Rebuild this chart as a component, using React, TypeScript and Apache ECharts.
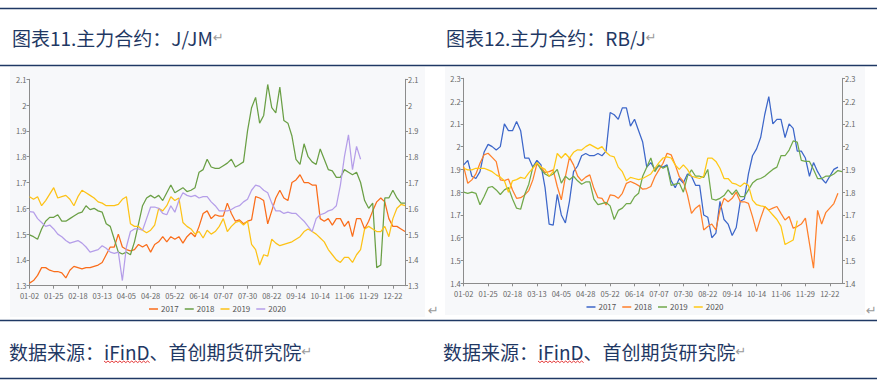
import React, { useEffect, useRef } from 'react';
import * as echarts from 'echarts';

// ---------- data ----------
const TICK_LABELS = ['01-02', '01-25', '02-18', '03-13', '04-05', '04-28', '05-22', '06-14', '07-07', '07-30', '08-22', '09-14', '10-14', '11-06', '11-29', '12-22'];
const TAIL_DATES = ['12-26', '12-29', '12-31'];
const STEPS_PER_LABEL = 6;

const LEGEND_NAMES = ['2017', '2018', '2019', '2020'];

// 图表11 J/JM
const L2017 = [1.31, 1.32, 1.34, 1.37, 1.37, 1.36, 1.355, 1.355, 1.35, 1.33,
  1.36, 1.375, 1.37, 1.365, 1.37, 1.37, 1.375, 1.38, 1.39, 1.42,
  1.45, 1.45, 1.50, 1.45, 1.44, 1.435, 1.44, 1.46, 1.45, 1.46,
  1.43, 1.46, 1.47, 1.49, 1.47, 1.49, 1.48, 1.49, 1.465, 1.49,
  1.505, 1.49, 1.53, 1.58, 1.59, 1.56, 1.575, 1.57, 1.57, 1.62,
  1.58, 1.55, 1.555, 1.54, 1.55, 1.555, 1.645, 1.64, 1.63, 1.54,
  1.59, 1.64, 1.67, 1.64, 1.63, 1.70, 1.71, 1.73, 1.70, 1.70,
  1.69, 1.69, 1.56, 1.55, 1.56, 1.535, 1.56, 1.56, 1.53, 1.55,
  1.49, 1.56, 1.56, 1.52, 1.55, 1.59, 1.625, 1.64, 1.625, 1.56,
  1.53, 1.53, 1.52, 1.51];
const L2018 = [1.497, 1.49, 1.48, 1.52, 1.55, 1.565, 1.565, 1.575, 1.55, 1.55,
  1.56, 1.57, 1.58, 1.585, 1.61, 1.595, 1.60, 1.59, 1.585, 1.54,
  1.53, 1.48, 1.43, 1.423, 1.43, 1.42, 1.47, 1.54, 1.61, 1.64,
  1.65, 1.64, 1.65, 1.63, 1.66, 1.69, 1.66, 1.67, 1.68, 1.665,
  1.67, 1.68, 1.74, 1.75, 1.79, 1.76, 1.755, 1.755, 1.765, 1.775,
  1.79, 1.76, 1.77, 1.78, 1.90, 1.99, 2.03, 1.93, 1.96, 2.08,
  1.99, 1.97, 2.07, 1.94, 1.93, 1.88, 1.79, 1.77, 1.85, 1.80,
  1.78, 1.77, 1.83, 1.79, 1.75, 1.745, 1.72, 1.72, 1.75, 1.74,
  1.73, 1.74, 1.70, 1.63, 1.60, 1.62, 1.37, 1.38, 1.64, 1.64,
  1.67, 1.64, 1.62, 1.62];
const L2019 = [1.645, 1.635, 1.645, 1.61, 1.63, 1.655, 1.68, 1.64, 1.645, 1.65,
  1.635, 1.61, 1.645, 1.67, 1.66, 1.65, 1.64, 1.625, 1.62, 1.61,
  1.61, 1.61, 1.615, 1.635, 1.645, 1.54, 1.53, 1.53, 1.515, 1.505,
  1.515, 1.535, 1.60, 1.59, 1.61, 1.645, 1.63, 1.64, 1.545, 1.53,
  1.52, 1.50, 1.51, 1.485, 1.515, 1.50, 1.51, 1.53, 1.56, 1.51,
  1.53, 1.545, 1.55, 1.535, 1.55, 1.46, 1.44, 1.38, 1.42, 1.415,
  1.48, 1.465, 1.455, 1.46, 1.465, 1.47, 1.48, 1.49, 1.51, 1.52,
  1.51, 1.50, 1.485, 1.47, 1.44, 1.42, 1.40, 1.39, 1.41, 1.41,
  1.39, 1.42, 1.44, 1.52, 1.53, 1.52, 1.51, 1.51, 1.53, 1.49,
  1.56, 1.60, 1.615, 1.61];
const L2020 = [1.587, 1.585, 1.56, 1.545, 1.53, 1.535, 1.52, 1.50, 1.49, 1.475,
  1.465, 1.47, 1.475, 1.465, 1.45, 1.43, 1.435, 1.44, 1.455, 1.445,
  1.43, 1.425, 1.43, 1.32, 1.45, 1.51, 1.52, 1.52, 1.515, 1.56,
  1.605, 1.605, 1.60, 1.58, 1.575, 1.61, 1.585, 1.63, 1.66, 1.65,
  1.645, 1.65, 1.64, 1.645, 1.645, 1.625, 1.61, 1.59, 1.59, 1.59,
  1.595, 1.605, 1.61, 1.625, 1.635, 1.67, 1.69, 1.685, 1.67, 1.66,
  1.62, 1.59, 1.59, 1.58, 1.585, 1.58, 1.58, 1.565, 1.55, 1.53,
  1.51, 1.56, 1.575, 1.58, 1.59, 1.595, 1.61, 1.69, 1.80, 1.885,
  1.75, 1.84, 1.79, null, null, null, null, null, null, null,
  null, null, null, null];

// 图表12 RB/J
const R2017 = [1.92, 1.94, 1.87, 1.86, 1.89, 1.975, 2.01, 2.00, 1.985, 2.00,
  2.10, 2.07, 2.07, 2.11, 2.07, 1.95, 1.95, 1.91, 1.94, 1.92,
  1.82, 1.66, 1.655, 1.79, 1.70, 1.665, 1.76, 1.89, 1.915, 1.96,
  1.97, 1.96, 1.96, 1.97, 1.96, 1.98, 2.15, 2.14, 2.12, 2.17,
  2.17, 2.09, 2.12, 2.07, 2.02, 1.91, 1.93, 1.90, 1.915, 1.91,
  1.92, 1.85, 1.82, 1.86, 1.84, 1.88, 1.87, 1.83, 1.83, 1.70,
  1.69, 1.60, 1.62, 1.76, 1.68, 1.66, 1.61, 1.645, 1.76, 1.77,
  1.88, 1.96, 1.99, 2.04, 2.14, 2.22, 2.10, 2.12, 2.12, 2.04,
  2.10, 2.08, 1.98, 1.98, 1.95, 1.87, 1.93, 1.89, 1.86, 1.84,
  1.87, 1.90, 1.91, null];
const R2018 = [1.912, 1.839, 1.854, 1.88, 1.927, 1.964, 1.971, 1.953, 1.934, 1.854,
  1.851, 1.858, 1.81, 1.773, 1.776, 1.788, 1.807, 1.854, 1.924, 1.91,
  1.886, 1.89, 1.898, 1.825, 1.766, 1.868, 1.953, 1.92, 1.871, 1.85,
  1.866, 1.876, 1.817, 1.776, 1.773, 1.744, 1.788, 1.785, 1.773, 1.795,
  1.839, 1.847, 1.839, 1.829, 1.813, 1.816, 1.825, 1.868, 1.898, 1.927,
  1.971, 1.964, 1.92, 1.868, 1.847, 1.788, 1.707, 1.73, 1.744, 1.634,
  1.649, 1.66, 1.634, 1.722, 1.773, 1.758, 1.773, 1.80, 1.758, 1.758,
  1.751, 1.693, 1.627, 1.686, 1.737, 1.722, 1.73, 1.737, 1.707, 1.678,
  1.693, 1.642, 1.649, 1.66, 1.686, 1.575, 1.466, 1.72, 1.66, 1.71,
  1.73, 1.75, 1.795, null];
const R2019 = [1.80, 1.795, 1.80, 1.795, 1.745, 1.78, 1.82, 1.825, 1.81, 1.79,
  1.81, 1.82, 1.77, 1.73, 1.725, 1.79, 1.835, 1.91, 1.93, 1.90,
  1.88, 1.87, 1.88, 1.90, 1.84, 1.87, 1.855, 1.87, 1.85, 1.835,
  1.845, 1.845, 1.77, 1.745, 1.75, 1.755, 1.74, 1.68, 1.72, 1.73,
  1.75, 1.75, 1.78, 1.795, 1.87, 1.91, 1.95, 1.89, 1.92, 1.905,
  1.915, 1.83, 1.835, 1.84, 1.80, 1.87, 1.898, 1.87, 1.87, 1.865,
  1.90, 1.77, 1.765, 1.773, 1.785, 1.81, 1.79, 1.81, 1.78, 1.78,
  1.81, 1.84, 1.855, 1.86, 1.87, 1.885, 1.90, 1.91, 1.96, 1.96,
  1.985, 2.025, 2.02, 1.94, 1.935, 1.935, 1.90, 1.86, 1.86, 1.87,
  1.87, 1.88, 1.895, 1.89];
const R2020 = [1.905, 1.898, 1.898, 1.905, 1.905, 1.905, 1.898, 1.89, 1.876, 1.866,
  1.85, 1.80, 1.85, 1.855, 1.865, 1.86, 1.885, 1.905, 1.93, 1.91,
  1.90, 1.87, 1.89, 1.97, 1.95, 1.97, 1.95, 1.975, 1.986, 1.985,
  2.00, 2.01, 2.00, 1.99, 2.00, 1.975, 1.96, 1.955, 1.91, 1.89,
  1.85, 1.865, 1.86, 1.855, 1.86, 1.87, 1.88, 1.905, 1.93, 1.95,
  1.955, 1.95, 1.92, 1.90, 1.92, 1.90, 1.87, 1.865, 1.86, 1.87,
  1.95, 1.95, 1.935, 1.905, 1.86, 1.86, 1.84, 1.835, 1.825, 1.84,
  1.83, 1.765, 1.745, 1.74, 1.737, 1.72, 1.70, 1.68, 1.65, 1.57,
  1.58, 1.59, 1.675, null, null, null, null, null, null, null,
  null, null, null, null];

const LEFT_COLORS = ['#fa6d1a', '#6a9f45', '#fdc216', '#b59ee9'];
const RIGHT_COLORS = ['#3c66c9', '#ff7f2a', '#70a84a', '#ffc814'];

const TITLE_LEFT = '图表11.主力合约：J/JM';
const TITLE_RIGHT = '图表12.主力合约：RB/J';
const SOURCE_PREFIX = '数据来源：';
const SOURCE_NAME = 'iFinD';
const SOURCE_SUFFIX = '、首创期货研究院';

// ---------- helpers ----------
function buildCategories(): string[] {
  const toDay = (s: string) => {
    const [m, d] = s.split('-').map(Number);
    return Date.UTC(2019, m - 1, d) / 86400000;
  };
  const fmt = (n: number) => {
    const dt = new Date(Math.round(n) * 86400000);
    return String(dt.getUTCMonth() + 1).padStart(2, '0') + '-' + String(dt.getUTCDate()).padStart(2, '0');
  };
  const out: string[] = [];
  for (let k = 0; k < TICK_LABELS.length - 1; k++) {
    const a = toDay(TICK_LABELS[k]);
    const b = toDay(TICK_LABELS[k + 1]);
    for (let j = 0; j < STEPS_PER_LABEL; j++) {
      out.push(j === 0 ? TICK_LABELS[k] : fmt(a + ((b - a) * j) / STEPS_PER_LABEL));
    }
  }
  out.push(TICK_LABELS[TICK_LABELS.length - 1]);
  out.push(...TAIL_DATES);
  return out;
}

const FONT = "'Noto Sans CJK SC', 'Noto Sans', sans-serif";
const NAVY = '#1f3864';
const DOC_SIZE = 19;

function measure(text: string, size: number): number {
  const c = document.createElement('canvas').getContext('2d');
  if (!c) return text.length * size * 0.6;
  c.font = `${size}px 'Noto Sans CJK SC'`;
  return c.measureText(text).width;
}

function chartOption(
  categories: string[],
  seriesData: (number | null)[][],
  colors: string[],
  yMin: number,
  yMax: number,
  grid: { left: number; right: number; top: number; bottom: number },
  legendTop: number
) {
  const axisLabel = { fontSize: 7.5, color: '#666', fontFamily: FONT };
  const yAxisBase = {
    type: 'value',
    min: yMin,
    max: yMax,
    interval: 0.1,
    splitLine: { show: false },
    axisLine: { show: true, lineStyle: { color: '#8c8c8c', width: 1 } },
    axisTick: { show: true, length: 3, lineStyle: { color: '#8c8c8c' } },
    axisLabel: { ...axisLabel, margin: 3, formatter: (v: number) => String(Math.round(v * 10) / 10) },
  };
  return {
    animation: false,
    backgroundColor: '#f7f8fa',
    textStyle: { fontFamily: FONT },
    color: colors,
    grid: { ...grid, containLabel: false },
    legend: {
      data: LEGEND_NAMES,
      top: legendTop,
      left: 'center',
      icon: 'rect',
      itemWidth: 9,
      itemHeight: 1.5,
      itemGap: 6,
      textStyle: { fontSize: 8, color: '#555', fontFamily: FONT, padding: [0, 0, 0, -2] },
    },
    xAxis: {
      type: 'category',
      data: categories,
      boundaryGap: false,
      axisLine: { lineStyle: { color: '#8c8c8c' } },
      axisTick: { interval: STEPS_PER_LABEL - 1, length: 3, lineStyle: { color: '#8c8c8c' } },
      axisLabel: { ...axisLabel, margin: 6, interval: STEPS_PER_LABEL - 1 },
    },
    yAxis: [
      { ...yAxisBase, position: 'left' },
      { ...yAxisBase, position: 'right' },
    ],
    series: LEGEND_NAMES.map((name, i) => ({
      name,
      type: 'line',
      data: seriesData[i],
      showSymbol: false,
      symbol: 'none',
      connectNulls: false,
      lineStyle: { width: 1.25, color: colors[i] },
      itemStyle: { color: colors[i] },
    })),
  };
}

function pageOption() {
  const line = (y: number) => ({
    type: 'line',
    shape: { x1: 0, y1: y, x2: 877, y2: y },
    style: { stroke: NAVY, lineWidth: 1.5 },
  });
  const docText = (x: number, y: number, t: string) => ({
    type: 'text',
    x,
    y,
    style: {
      text: `{a|${t}}{p|↵}`,
      verticalAlign: 'middle',
      rich: {
        a: { fontSize: DOC_SIZE, fill: NAVY, fontFamily: FONT },
        p: { fontSize: 13, fill: '#9a9a9a', fontFamily: 'DejaVu Sans' },
      },
    },
  });
  const mark = (x: number, y: number) => ({
    type: 'text',
    x,
    y,
    style: { text: '↵', fontSize: 13, fill: '#9a9a9a', fontFamily: 'DejaVu Sans', verticalAlign: 'middle' },
  });
  const wave = (x0: number, y: number, w: number) => {
    const pts: number[][] = [];
    const n = Math.round(w / 2);
    for (let i = 0; i <= n; i++) pts.push([x0 + (i * w) / n, y + (i % 2 === 0 ? 0 : 1.6)]);
    return { type: 'polyline', shape: { points: pts }, style: { stroke: '#e02020', lineWidth: 0.9, fill: null } };
  };
  const sourceFull = SOURCE_PREFIX + SOURCE_NAME + SOURCE_SUFFIX;
  const preW = measure(SOURCE_PREFIX, DOC_SIZE);
  const nameW = measure(SOURCE_NAME, DOC_SIZE);
  const srcLeftX = 9;
  const srcRightX = 443;
  return {
    animation: false,
    graphic: [
      line(8.5),
      line(65.5),
      line(320.5),
      line(378.5),
      docText(12, 37, TITLE_LEFT),
      docText(446, 37, TITLE_RIGHT),
      docText(srcLeftX, 351, sourceFull),
      docText(srcRightX, 351, sourceFull),
      mark(428, 310),
      mark(866, 310),
      wave(srcLeftX + preW, 361, nameW),
      wave(srcRightX + preW, 361, nameW),
    ],
  };
}

export default function App() {
  const pageRef = useRef<HTMLDivElement>(null);
  const leftRef = useRef<HTMLDivElement>(null);
  const rightRef = useRef<HTMLDivElement>(null);

  useEffect(() => {
    const categories = buildCategories();
    const page = echarts.init(pageRef.current!, undefined, { renderer: 'svg' });
    page.setOption(pageOption() as any);
    const left = echarts.init(leftRef.current!, undefined, { renderer: 'svg' });
    left.setOption(
      chartOption(categories, [L2017, L2018, L2019, L2020], LEFT_COLORS, 1.3, 2.1,
        { left: 19.5, right: 20, top: 12.3, bottom: 31.3 }, 233) as any
    );
    const right = echarts.init(rightRef.current!, undefined, { renderer: 'svg' });
    right.setOption(
      chartOption(categories, [R2017, R2018, R2019, R2020], RIGHT_COLORS, 1.4, 2.3,
        { left: 18.7, right: 23, top: 11.3, bottom: 31.7 }, 231) as any
    );
    return () => {
      page.dispose();
      left.dispose();
      right.dispose();
    };
  }, []);

  return (
    <div style={{ position: 'absolute', left: 0, top: 0, width: 877, height: 386, background: '#fff', overflow: 'hidden' }}>
      <div ref={pageRef} style={{ position: 'absolute', left: 0, top: 0, width: 877, height: 386 }} />
      <div ref={leftRef} style={{ position: 'absolute', left: 10, top: 67, width: 415, height: 250 }} />
      <div ref={rightRef} style={{ position: 'absolute', left: 445, top: 67, width: 420, height: 248 }} />
    </div>
  );
}
